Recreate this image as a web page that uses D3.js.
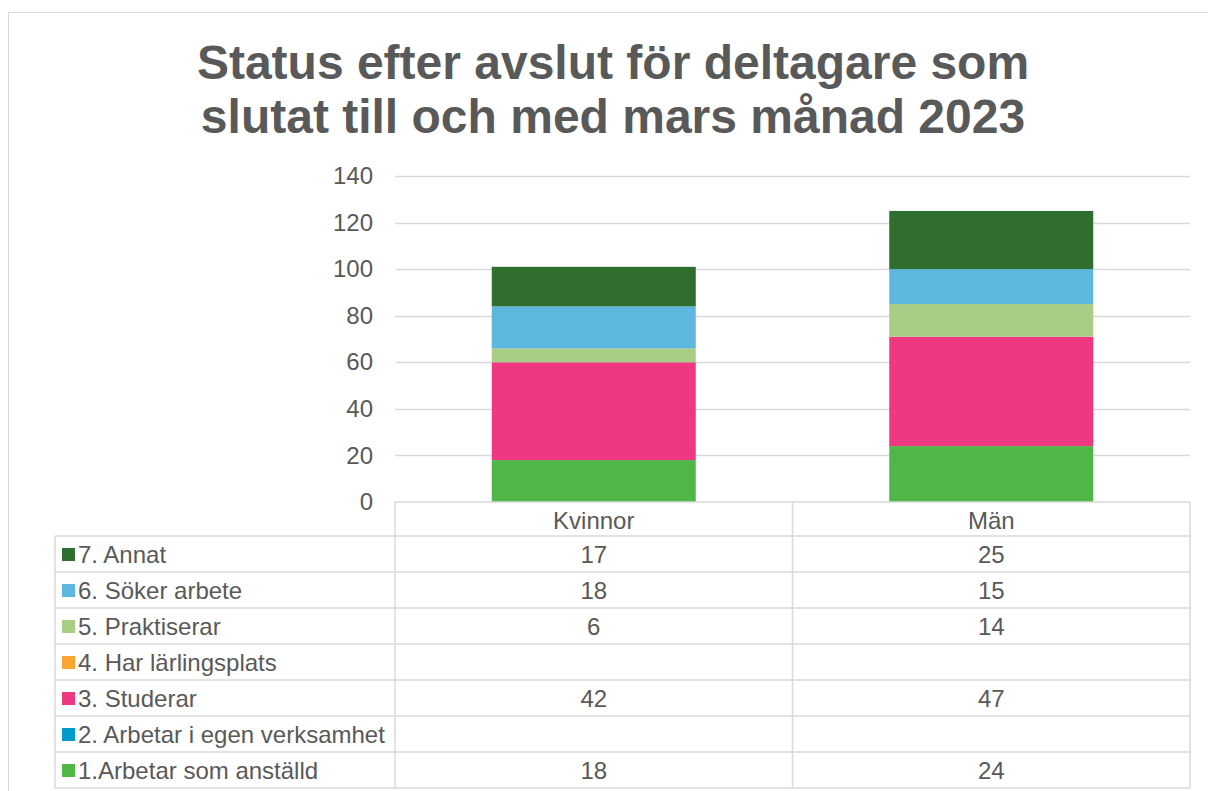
<!DOCTYPE html>
<html>
<head>
<meta charset="utf-8">
<script src="https://cdn.jsdelivr.net/npm/d3@7"></script>
<style>
  body { margin: 0; background: #fff; }
  svg { font-family: "Liberation Sans", Arial, sans-serif; }
</style>
</head>
<body>
<div id="chart"></div>
<script>
// Data
const categories = ['Kvinnor', 'Män'];
const seriesNames = [
    '1.Arbetar som anställd',
    '2. Arbetar i egen verksamhet',
    '3. Studerar',
    '4. Har lärlingsplats',
    '5. Praktiserar',
    '6. Söker arbete',
    '7. Annat'
];
const kvinnorValues = [18, null, 42, null, 6, 18, 17];
const manValues = [24, null, 47, null, 14, 15, 25];
const seriesColors = ['#4eb748', '#0099cc', '#ef3882', '#f9a533', '#a9cd85', '#5db7de', '#2f6e2e'];
const yTicks = [0, 20, 40, 60, 80, 100, 120, 140];

const width = 1208, height = 791;
const plot = { left: 395, right: 1190, top: 176, bottom: 502 };
const rowH = 36;
const tableLeft = 55;
const textSize = '24px';

const svg = d3.select('#chart').append('svg')
    .attr('width', width)
    .attr('height', height);

// Outer frame
svg.append('rect')
    .attr('x', 8.5).attr('y', 12.5)
    .attr('width', width + 10).attr('height', height + 10)
    .attr('fill', 'none')
    .attr('stroke', '#d9d9d9');

// Title
svg.append('text')
    .attr('text-anchor', 'middle')
    .attr('fill', '#595959')
    .style('font-size', '48px')
    .style('font-weight', 'bold')
    .selectAll('tspan')
    .data(['Status efter avslut för deltagare som', 'slutat till och med mars månad 2023'])
    .join('tspan')
    .attr('x', 613)
    .attr('y', (d, i) => 79 + i * 54)
    .text(d => d);

// Scales
const x = d3.scaleBand()
    .domain(categories)
    .range([plot.left, plot.right]);

const barWidth = 204;

const y = d3.scaleLinear()
    .domain([0, 140])
    .range([plot.bottom, plot.top]);

// Gridlines
svg.append('g')
    .selectAll('line')
    .data(yTicks.slice(1))
    .join('line')
    .attr('x1', plot.left).attr('x2', plot.right)
    .attr('y1', d => Math.round(y(d)) + 0.5)
    .attr('y2', d => Math.round(y(d)) + 0.5)
    .attr('stroke', '#d9d9d9')
    .attr('stroke-width', 1.5);

// Y axis labels
const axisY = svg.append('g')
    .attr('transform', `translate(${plot.left - 22}, 0)`)
    .call(d3.axisLeft(y).tickValues(yTicks).tickSize(0).tickPadding(0));
axisY.select('.domain').remove();
axisY.selectAll('text')
    .attr('fill', '#595959')
    .style('font-size', textSize)
    .style('font-family', '"Liberation Sans", Arial, sans-serif');

// Stacked bars
const table = categories.map((c, ci) => {
    const vals = ci === 0 ? kvinnorValues : manValues;
    const row = { category: c };
    seriesNames.forEach((s, si) => { row[s] = vals[si] || 0; });
    return row;
});
const stacked = d3.stack().keys(seriesNames)(table);

svg.append('g')
    .selectAll('g')
    .data(stacked)
    .join('g')
    .attr('fill', (d, i) => seriesColors[i])
    .selectAll('rect')
    .data(d => d)
    .join('rect')
    .attr('x', d => x(d.data.category) + (x.bandwidth() - barWidth) / 2)
    .attr('width', barWidth)
    .attr('y', d => y(d[1]))
    .attr('height', d => y(d[0]) - y(d[1]));

// Data table
const grid = svg.append('g')
    .attr('stroke', '#d9d9d9')
    .attr('stroke-width', 1.5)
    .attr('fill', 'none');

const tableTop = plot.bottom + rowH - 2; // first legend row
const nRows = seriesNames.length;
const tableBottom = tableTop + nRows * rowH;

grid.append('line')
    .attr('x1', plot.left).attr('x2', plot.left)
    .attr('y1', plot.bottom).attr('y2', tableBottom);
categories.forEach(c => {
    grid.append('line')
        .attr('x1', x(c) + x.bandwidth()).attr('x2', x(c) + x.bandwidth())
        .attr('y1', plot.bottom).attr('y2', tableBottom);
});
grid.append('line')
    .attr('x1', plot.left).attr('x2', plot.right)
    .attr('y1', plot.bottom).attr('y2', plot.bottom);
grid.append('line')
    .attr('x1', tableLeft).attr('x2', tableLeft)
    .attr('y1', tableTop).attr('y2', tableBottom);
d3.range(nRows + 1).forEach(i => {
    grid.append('line')
        .attr('x1', tableLeft).attr('x2', plot.right)
        .attr('y1', tableTop + i * rowH).attr('y2', tableTop + i * rowH);
});

// header labels
svg.append('g')
    .selectAll('text')
    .data(categories)
    .join('text')
    .attr('x', d => x(d) + x.bandwidth() / 2)
    .attr('y', plot.bottom + 27)
    .attr('text-anchor', 'middle')
    .attr('fill', '#595959')
    .style('font-size', textSize)
    .text(d => d);

// rows, top row is the last series
const rowOrder = seriesNames.map((s, i) => i).reverse();
const rows = svg.append('g')
    .selectAll('g')
    .data(rowOrder)
    .join('g')
    .attr('transform', (d, i) => `translate(0, ${tableTop + i * rowH})`);

rows.append('rect')
    .attr('x', 62).attr('y', 12)
    .attr('width', 13).attr('height', 13)
    .attr('fill', d => seriesColors[d]);

rows.append('text')
    .attr('x', 78).attr('y', 27)
    .attr('fill', '#595959')
    .style('font-size', textSize)
    .text(d => seriesNames[d]);

rows.selectAll('text.val')
    .data(si => categories.map((c, ci) => ({ c, v: (ci === 0 ? kvinnorValues : manValues)[si] })))
    .join('text')
    .attr('class', 'val')
    .attr('x', d => x(d.c) + x.bandwidth() / 2)
    .attr('y', 27)
    .attr('text-anchor', 'middle')
    .attr('fill', '#595959')
    .style('font-size', textSize)
    .text(d => d.v == null ? '' : d.v);
</script>
</body>
</html>
